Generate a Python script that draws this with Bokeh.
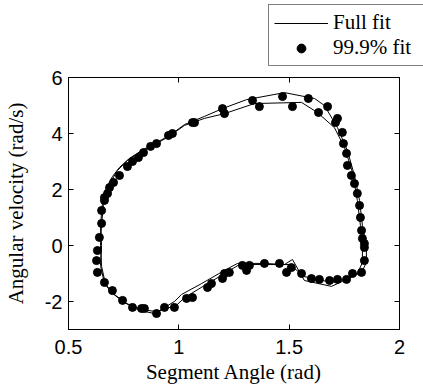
from bokeh.plotting import figure
from bokeh.layouts import column
from bokeh.models import Range1d, LinearAxis, Legend, LegendItem, FixedTicker
from bokeh.embed import file_html
from bokeh.resources import INLINE

# ---- data ----
x_ticks = [0.5, 1.0, 1.5, 2.0]
x_tick_labels = ["0.5", "1", "1.5", "2"]
y_ticks = [-2, 0, 2, 4, 6]
y_tick_labels = ["-2", "0", "2", "4", "6"]
legend_labels = ["Full fit", "99.9% fit"]

# full fit, outer cycle
fit1_x = [0.650, 0.645, 0.650, 0.659, 0.677, 0.699, 0.731, 0.776, 0.831, 0.890, 0.958, 1.026,
          1.116, 1.198, 1.307, 1.479, 1.615, 1.660, 1.719, 1.764, 1.796, 1.819, 1.832, 1.850,
          1.850, 1.828, 1.787, 1.692, 1.569, 1.515, 1.479, 1.388, 1.266, 1.207, 1.103, 1.012,
          0.980, 0.890, 0.822, 0.754, 0.699, 0.663, 0.645, 0.650]
fit1_y = [0.00, 0.54, 1.25, 1.79, 2.14, 2.46, 2.79, 3.11, 3.39, 3.64, 3.93, 4.32,
          4.61, 4.89, 5.21, 5.46, 5.25, 5.00, 4.21, 3.39, 2.50, 1.61, 0.71, 0.00,
          -0.61, -0.96, -1.11, -1.46, -1.25, -0.50, -0.68, -0.64, -0.64, -0.89, -1.36, -1.75,
          -2.00, -2.43, -2.32, -2.04, -1.71, -1.36, -0.71, 0.00]

# full fit, inner cycle
fit2_x = [0.645, 0.650, 0.659, 0.672, 0.695, 0.722, 0.767, 0.822, 0.881, 0.949, 1.026, 1.116,
          1.207, 1.343, 1.556, 1.628, 1.705, 1.751, 1.787, 1.809, 1.823, 1.832, 1.832, 1.809,
          1.751, 1.692, 1.569, 1.524, 1.501, 1.388, 1.275, 1.216, 1.116, 1.026, 0.989, 0.899,
          0.831, 0.763, 0.708, 0.668, 0.650, 0.645]
fit2_y = [0.00, 0.79, 1.43, 1.96, 2.32, 2.68, 3.04, 3.32, 3.57, 3.86, 4.29, 4.54,
          4.71, 5.07, 5.11, 4.75, 4.21, 3.50, 2.61, 1.61, 0.71, 0.00, -0.61, -1.00,
          -1.21, -1.32, -1.11, -0.82, -0.68, -0.68, -0.68, -0.96, -1.43, -1.86, -2.14, -2.36,
          -2.29, -2.07, -1.75, -1.39, -0.75, 0.00]

# 99.9% fit samples
pts_x = [0.663, 0.686, 0.704, 0.731, 0.767, 0.790, 0.817, 0.840, 0.872, 0.899, 0.953, 0.971,
         1.062, 1.071, 1.198, 1.207, 1.334, 1.365, 1.470, 1.515, 1.587, 1.674, 1.633, 1.719,
         1.710, 1.741, 1.746, 1.760, 1.764, 1.782, 1.796, 1.809, 1.819, 1.823, 1.828, 1.841,
         1.832, 1.841, 1.841, 1.828, 1.787, 1.760, 1.719, 1.683, 1.637, 1.601, 1.556, 1.510,
         1.488, 1.456, 1.388, 1.320, 1.307, 1.288, 1.229, 1.207, 1.198, 1.148, 1.130, 1.062,
         1.035, 0.980, 0.935, 0.899, 0.844, 0.831, 0.790, 0.745, 0.699, 0.663, 0.631, 0.627,
         0.631, 0.640, 0.650, 0.650, 0.663, 0.677]
pts_y = [1.71, 2.07, 2.25, 2.50, 2.82, 3.00, 3.14, 3.32, 3.54, 3.64, 3.93, 4.00,
         4.39, 4.39, 4.89, 4.71, 5.18, 4.96, 5.32, 4.96, 5.25, 4.96, 4.75, 4.54,
         4.39, 4.04, 3.64, 3.29, 2.86, 2.50, 2.21, 1.86, 1.43, 1.00, 0.54, 0.07,
         0.25, -0.07, -0.54, -0.96, -1.00, -1.21, -1.21, -1.25, -1.21, -1.18, -1.00, -0.79,
         -0.96, -0.64, -0.64, -0.71, -0.89, -0.71, -0.96, -1.00, -1.18, -1.36, -1.50, -1.86,
         -1.89, -2.21, -2.21, -2.43, -2.25, -2.25, -2.21, -1.96, -1.61, -1.32, -0.96, -0.54,
         -0.18, 0.29, 0.79, 1.25, 1.61, 1.86]

SERIF = "Liberation Serif"
SANS = "Liberation Sans"
LEG_H = 66

# ---- legend strip (sits above the plot); its renderers use the same data, out of view ----
lf = figure(width=423, height=LEG_H, output_backend="svg", toolbar_location=None,
            x_axis_type=None, y_axis_type=None, min_border=0,
            x_range=Range1d(0.5, 2.0), y_range=Range1d(100, 101))
lf.frame_align = False
lf.grid.visible = False
lf.outline_line_color = None
leg_line = lf.line(fit1_x, fit1_y, line_color="black", line_width=1)
leg_dots = lf.scatter(pts_x, pts_y, size=8, fill_color="black", line_color="black")
legend = Legend(items=[LegendItem(label=legend_labels[0], renderers=[leg_line]),
                       LegendItem(label=legend_labels[1], renderers=[leg_dots])],
                location=(268, 0))
legend.label_text_font = SERIF
legend.label_text_font_size = "21px"
legend.label_text_color = "black"
legend.glyph_width = 54
legend.glyph_height = 22
legend.label_height = 22
legend.label_width = 110
legend.label_standoff = 5
legend.padding = 5
legend.spacing = 0
legend.margin = 0
legend.border_line_color = "black"
legend.border_line_width = 1
legend.background_fill_color = "white"
legend.background_fill_alpha = 1.0
lf.add_layout(legend, "center")

# ---- main plot ----
p = figure(frame_width=331, frame_height=252, output_backend="svg", toolbar_location=None,
           x_range=Range1d(0.5, 2.0), y_range=Range1d(-3, 6),
           min_border_left=64, min_border_right=28, min_border_top=11, min_border_bottom=58,
           background_fill_color="white", border_fill_color="white")
p.frame_align = False
p.grid.visible = False
p.outline_line_color = "black"
p.outline_line_width = 1

p.line(fit1_x, fit1_y, line_color="black", line_width=1)
p.line(fit2_x, fit2_y, line_color="black", line_width=1)
p.scatter(pts_x, pts_y, size=8, fill_color="black", line_color="black")

def style_axis(ax):
    ax.major_tick_in = 5
    ax.major_tick_out = 0
    ax.minor_tick_line_color = None
    ax.axis_line_color = "black"
    ax.major_tick_line_color = "black"
    ax.major_label_text_font = SANS
    ax.major_label_text_font_size = "20px"
    ax.major_label_text_color = "black"
    ax.axis_label_text_font = SERIF
    ax.axis_label_text_font_size = "21px"
    ax.axis_label_text_font_style = "normal"
    ax.axis_label_text_color = "black"

xa = p.xaxis[0]
ya = p.yaxis[0]
xa.ticker = FixedTicker(ticks=x_ticks)
ya.ticker = FixedTicker(ticks=y_ticks)
xa.major_label_overrides = dict(zip(x_ticks, x_tick_labels))
ya.major_label_overrides = dict(zip(y_ticks, y_tick_labels))
style_axis(xa)
style_axis(ya)
xa.axis_label = "Segment Angle (rad)"
ya.axis_label = "Angular velocity (rad/s)"
xa.major_label_standoff = 10
ya.major_label_standoff = 6
xa.axis_label_standoff = 3
ya.axis_label_standoff = 14

top = LinearAxis(ticker=FixedTicker(ticks=x_ticks))
right = LinearAxis(ticker=FixedTicker(ticks=y_ticks))
for ax in (top, right):
    style_axis(ax)
    ax.major_label_standoff = 0
    ax.axis_label_standoff = 0
top.major_label_overrides = {t: "" for t in x_ticks}
right.major_label_overrides = {t: "" for t in y_ticks}
p.add_layout(top, "above")
p.add_layout(right, "right")

layout = column(lf, p)
open("out.html", "w").write(file_html(layout, INLINE))
